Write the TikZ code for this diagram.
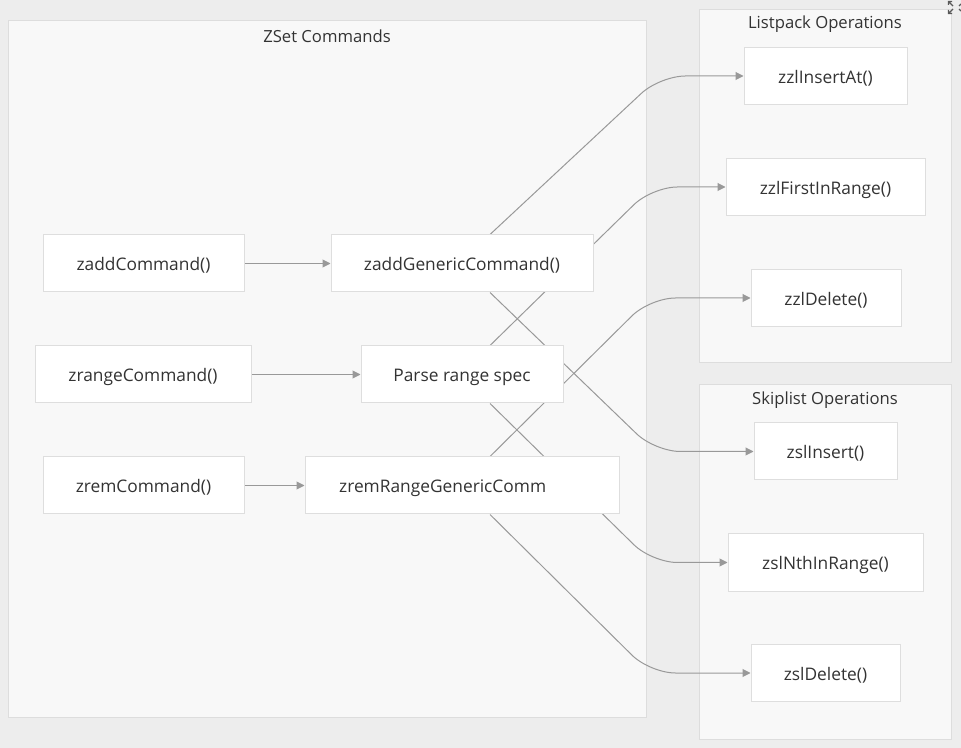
\documentclass[tikz,border=0pt]{standalone}
\usepackage{fontspec}
\setmainfont{Open Sans}
\usetikzlibrary{arrows.meta}
\definecolor{pagebg}{HTML}{EDEDED}
\definecolor{groupbg}{HTML}{F8F8F8}
\definecolor{groupline}{HTML}{DDDDDD}
\definecolor{boxline}{HTML}{DEDEDE}
\definecolor{inktext}{HTML}{333333}
\definecolor{wire}{HTML}{999999}
\pgfdeclarelayer{groups}
\pgfdeclarelayer{wires}
\pgfsetlayers{groups,wires,main}
\tikzset{
  fnbox/.style={draw=boxline, line width=0.75pt, fill=white, inner sep=0pt,
    minimum height=42.75pt, text=inktext, text height=12pt, text depth=1.2pt,
    font=\fontsize{13pt}{15pt}\selectfont},
  grouptitle/.style={text=inktext, inner sep=0pt, font=\fontsize{12.5pt}{15pt}\selectfont},
  groupframe/.style={draw=groupline, line width=0.75pt, fill=groupbg},
  wireline/.style={draw=wire, line width=0.75pt, -{Triangle[length=6pt,width=6pt]}},
  bentwire/.style={wireline, rounded corners=19pt},
}
\begin{document}
\begin{tikzpicture}[x=0.75pt, y=-0.75pt]
  \useasboundingbox (0,0) rectangle (961,748);

  % page and groups
  \begin{pgfonlayer}{groups}
    \fill[pagebg] (0,0) rectangle (961,748);
    \draw[groupframe] (8,21) rectangle (646,717);
    \draw[groupframe] (699,10) rectangle (951,363);
    \draw[groupframe] (699,385) rectangle (951,739);
  \end{pgfonlayer}
  \node[grouptitle] (tzset) at (327,36) {ZSet Commands};
  \node[grouptitle] (tlist) at (825,24.5) {Listpack Operations};
  \node[grouptitle] (tskip) at (825,400.5) {Skiplist Operations};

  % command functions
  \node[fnbox, minimum width=150.75pt] (zadd) at (143.5,263.5) {zaddCommand()};
  \node[fnbox, minimum width=162pt] (zrange) at (143,374.5) {zrangeCommand()};
  \node[fnbox, minimum width=150.75pt] (zrem) at (143.5,485.5) {zremCommand()};
  \node[fnbox, minimum width=196.5pt] (zaddg) at (462,263.5) {zaddGenericCommand()};
  \node[fnbox, minimum width=151.5pt] (parse) at (462,374.5) {Parse range spec};
  \node[fnbox, minimum width=235.5pt,
        label={[text=inktext, text height=12pt, text depth=1.2pt,
                font=\fontsize{13pt}{15pt}\selectfont, xshift=-14.5pt]center:zremRangeGenericComm}]
        (zremg) at (462,485.5) {};

  % listpack functions
  \node[fnbox, minimum width=122.25pt] (zzlins) at (825.5,76) {zzlInsertAt()};
  \node[fnbox, minimum width=149.25pt] (zzlfirst) at (825.5,187) {zzlFirstInRange()};
  \node[fnbox, minimum width=112.5pt] (zzldel) at (826,298) {zzlDelete()};

  % skiplist functions
  \node[fnbox, minimum width=107.25pt] (zslins) at (825.5,451.5) {zslInsert()};
  \node[fnbox, minimum width=146.25pt] (zslnth) at (825.5,562.5) {zslNthInRange()};
  \node[fnbox, minimum width=111.75pt] (zsldel) at (825.5,673) {zslDelete()};

  % connectors
  \begin{pgfonlayer}{wires}
    \draw[wireline] (zadd) -- (zaddg);
    \draw[wireline] (zrange) -- (parse);
    \draw[wireline] (zrem) -- (zremg);
    \draw[bentwire] ([xshift=21pt]zaddg.north) -- (660,0 |- zzlins.west) -- (zzlins.west);
    \draw[bentwire] ([xshift=21pt]parse.north) -- (652,0 |- zzlfirst.west) -- (zzlfirst.west);
    \draw[bentwire] ([xshift=21pt]zremg.north) -- (650,0 |- zzldel.west) -- (zzldel.west);
    \draw[bentwire] ([xshift=21pt]zaddg.south) -- (655,0 |- zslins.west) -- (zslins.west);
    \draw[bentwire] ([xshift=21pt]parse.south) -- (652,0 |- zslnth.west) -- (zslnth.west);
    \draw[bentwire] ([xshift=21pt]zremg.south) -- (650,0 |- zsldel.west) -- (zsldel.west);
  \end{pgfonlayer}

  % expand icon in the corner
  \begin{scope}[draw=black!65, line width=0.9pt]
    \draw (953,6) -- (948.5,1.5) (948.5,5) -- (948.5,1.5) -- (952,1.5);
    \draw (953,9) -- (948.5,13.5) (948.5,10) -- (948.5,13.5) -- (952,13.5);
    \draw (959,6) -- (961,4) (959,9) -- (961,11);
  \end{scope}
\end{tikzpicture}
\end{document}
